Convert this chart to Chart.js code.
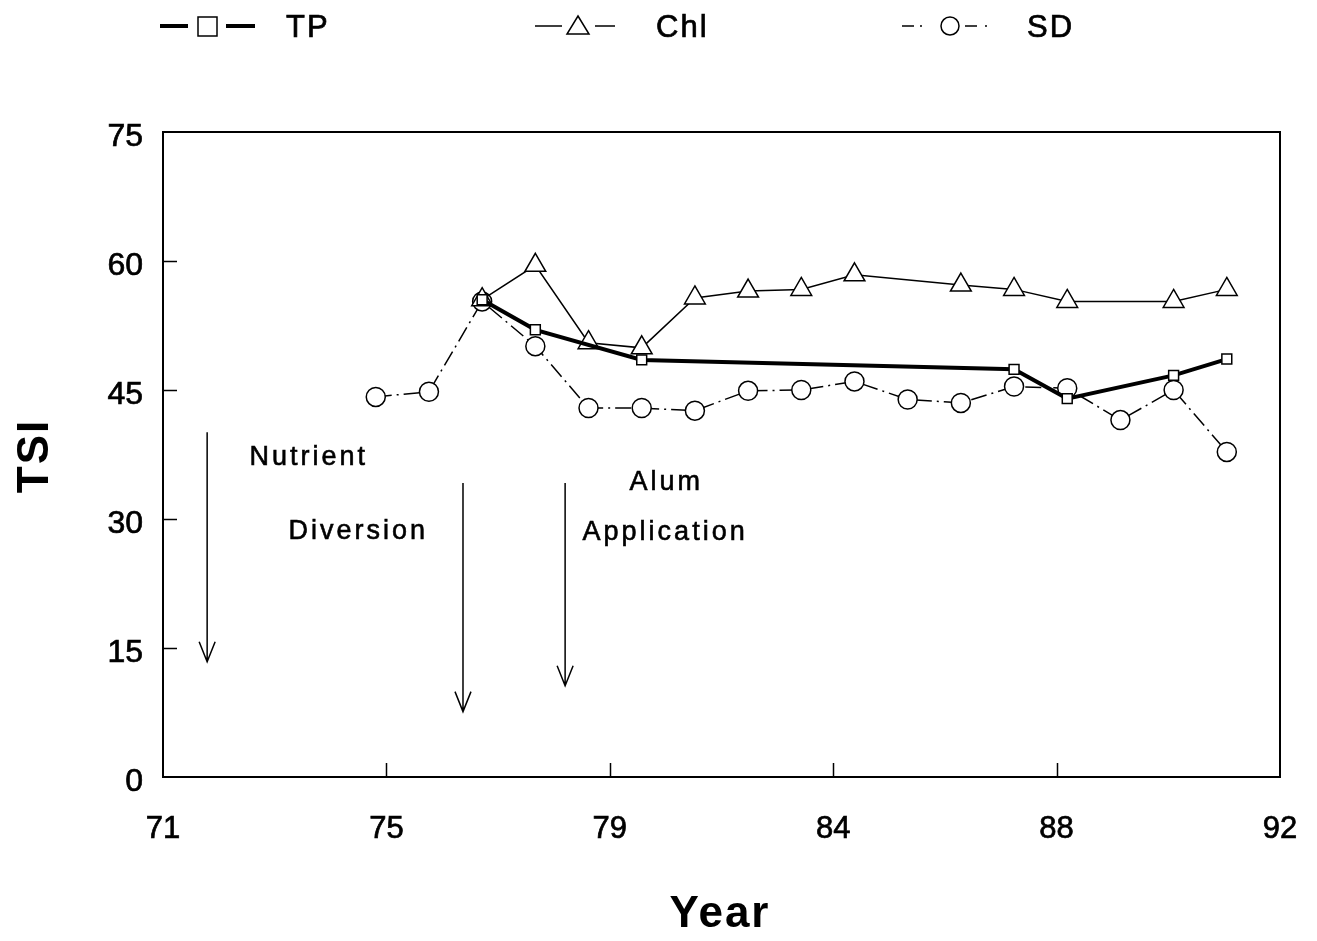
<!DOCTYPE html>
<html><head><meta charset="utf-8">
<script src="https://cdn.jsdelivr.net/npm/chart.js@4.4.1/dist/chart.umd.min.js"></script>
<style>html,body{margin:0;padding:0;background:#fff}#wrap{width:1317px;height:941px;position:relative}</style>
</head><body><div id="wrap"><canvas id="c" width="1317" height="941"></canvas></div>
<script>
const tpYears = [77, 78, 80, 87, 88, 90, 91];
const tpValues = [55.5, 52.0, 48.5, 47.4, 44.0, 46.7, 48.6];
const chlYears = [77, 78, 79, 80, 81, 82, 83, 84, 86, 87, 88, 90, 91];
const chlValues = [55.5, 59.5, 50.5, 49.9, 55.7, 56.5, 56.7, 58.4, 57.2, 56.7, 55.3, 55.3, 56.7];
const sdYears = [75, 76, 77, 78, 79, 80, 81, 82, 83, 84, 85, 86, 87, 88, 89, 90, 91];
const sdValues = [44.2, 44.8, 55.3, 50.1, 42.9, 42.9, 42.6, 44.9, 45.0, 46.0, 43.9, 43.5, 45.4, 45.2, 41.5, 45.0, 37.8];
const xTickValues = [71, 75.2, 79.4, 83.6, 87.8, 92];
const xTickLabels = ['71', '75', '79', '84', '88', '92'];
const yTickValues = [0, 15, 30, 45, 60, 75];
const arrowYears = [71.83, 76.64, 78.56];
const arrowTops = [40.1, 34.2, 34.2];
const arrowBottoms = [13.4, 7.6, 10.6];
const noteTexts = ['Nutrient', 'Diversion', 'Alum', 'Application'];
const noteYears = [73.74, 74.67, 80.46, 80.44];
const noteValues = [37.2, 28.5, 34.2, 28.4];
const seriesNames = ['TP', 'Chl', 'SD'];

const FONT = '"Liberation Sans", Arial, sans-serif';
const pts = (xs, ys) => xs.map((x, i) => ({x: x, y: ys[i]}));

function heavyText(ctx, t, x, y, w) {
  ctx.lineWidth = w;
  ctx.strokeText(t, x, y);
  ctx.fillText(t, x, y);
}

const framePlugin = {
  id: 'frame',
  afterDatasetsDraw(chart) {
    const ctx = chart.ctx, a = chart.chartArea;
    const xs = chart.scales.x, ys = chart.scales.y;
    ctx.save();
    ctx.strokeStyle = '#000';
    ctx.lineWidth = 2;
    ctx.strokeRect(a.left, a.top, a.right - a.left, a.bottom - a.top);
    ctx.lineWidth = 1.5;
    ctx.beginPath();
    xTickValues.slice(1, -1).forEach(v => {
      const px = Math.round(xs.getPixelForValue(v)) + 0.5;
      ctx.moveTo(px, a.bottom); ctx.lineTo(px, a.bottom - 14);
    });
    yTickValues.slice(1, -1).forEach(v => {
      const py = Math.round(ys.getPixelForValue(v)) + 0.5;
      ctx.moveTo(a.left, py); ctx.lineTo(a.left + 14, py);
    });
    ctx.stroke();
    // arrows
    ctx.lineWidth = 1.5;
    arrowYears.forEach((yr, i) => {
      const px = xs.getPixelForValue(yr);
      const t = ys.getPixelForValue(arrowTops[i]);
      const b = ys.getPixelForValue(arrowBottoms[i]);
      ctx.beginPath();
      ctx.moveTo(px, t); ctx.lineTo(px, b);
      ctx.moveTo(px - 8, b - 20); ctx.lineTo(px, b); ctx.lineTo(px + 8, b - 20);
      ctx.stroke();
    });
    // notes
    ctx.fillStyle = '#000';
    ctx.font = '27px ' + FONT;
    ctx.textAlign = 'center';
    ctx.textBaseline = 'middle';
    try { ctx.letterSpacing = '3px'; } catch (e) {}
    noteTexts.forEach((t, i) => {
      heavyText(ctx, t, xs.getPixelForValue(noteYears[i]), ys.getPixelForValue(noteValues[i]), 0.6);
    });
    ctx.restore();
  },
  afterDraw(chart) {
    const ctx = chart.ctx;
    ctx.save();
    ctx.fillStyle = '#000';
    ctx.strokeStyle = '#000';
    // axis titles
    ctx.textAlign = 'center';
    ctx.textBaseline = 'middle';
    ctx.font = 'bold 44px ' + FONT;
    try { ctx.letterSpacing = '2px'; } catch (e) {}
    ctx.fillText('Year', 720, 915);
    ctx.translate(36, 456);
    ctx.rotate(-Math.PI / 2);
    ctx.fillText('TSI', 0, 0);
    ctx.setTransform(1, 0, 0, 1, 0, 0);
    // legend
    const ly = 26;
    ctx.lineWidth = 4;
    ctx.beginPath(); ctx.moveTo(160, ly); ctx.lineTo(188, ly); ctx.moveTo(226, ly); ctx.lineTo(255, ly); ctx.stroke();
    ctx.lineWidth = 1.5;
    ctx.strokeRect(198, ly - 9, 19, 19);
    ctx.beginPath(); ctx.moveTo(535, ly); ctx.lineTo(562, ly); ctx.moveTo(595, ly); ctx.lineTo(615, ly); ctx.stroke();
    ctx.beginPath(); ctx.moveTo(578, ly - 10); ctx.lineTo(589, ly + 8); ctx.lineTo(567, ly + 8); ctx.closePath(); ctx.stroke();
    ctx.beginPath(); ctx.moveTo(902, ly); ctx.lineTo(914, ly); ctx.moveTo(965, ly); ctx.lineTo(977, ly); ctx.stroke();
    ctx.beginPath(); ctx.arc(921, ly, 1, 0, Math.PI * 2); ctx.arc(986, ly, 1, 0, Math.PI * 2); ctx.fill();
    ctx.beginPath(); ctx.arc(950, ly, 9, 0, Math.PI * 2); ctx.stroke();
    ctx.textAlign = 'left';
    ctx.font = '31px ' + FONT;
    try { ctx.letterSpacing = '2px'; } catch (e) {}
    heavyText(ctx, seriesNames[0], 286, ly + 2, 0.7);
    heavyText(ctx, seriesNames[1], 656, ly + 2, 0.7);
    heavyText(ctx, seriesNames[2], 1027, ly + 2, 0.7);
    ctx.restore();
  }
};

new Chart(document.getElementById('c'), {
  type: 'line',
  data: {
    datasets: [
      { label: seriesNames[0], data: pts(tpYears, tpValues), borderColor: '#000', borderWidth: 4,
        pointStyle: 'rect', pointRadius: 7, pointBorderWidth: 1.5, pointBackgroundColor: '#fff', pointBorderColor: '#000', tension: 0 },
      { label: seriesNames[1], data: pts(chlYears, chlValues), borderColor: '#000', borderWidth: 1.5,
        pointStyle: 'triangle', pointRadius: 12, pointBorderWidth: 1.5, pointBackgroundColor: '#fff', pointBorderColor: '#000', tension: 0 },
      { label: seriesNames[2], data: pts(sdYears, sdValues), borderColor: '#000', borderWidth: 1.5, borderDash: [16, 5, 2, 5],
        pointStyle: 'circle', pointRadius: 9.5, pointBorderWidth: 1.5, pointBackgroundColor: '#fff', pointBorderColor: '#000', tension: 0 }
    ]
  },
  options: {
    responsive: false,
    animation: false,
    devicePixelRatio: 1,
    layout: { padding: { left: 0, right: 37, top: 132, bottom: 0 } },
    plugins: { legend: { display: false }, tooltip: { enabled: false } },
    scales: {
      x: {
        type: 'linear', min: 71, max: 92,
        afterBuildTicks: s => { s.ticks = xTickValues.map(v => ({ value: v })); },
        afterFit: s => { s.height = 164; s.paddingLeft = 0; s.paddingRight = 0; },
        grid: { display: false, drawTicks: false },
        border: { display: false },
        ticks: { color: '#000', font: { family: FONT, size: 31 }, padding: 34, maxRotation: 0, autoSkip: false,
          textStrokeColor: '#000', textStrokeWidth: 0.7,
          callback: (v, i) => xTickLabels[i] }
      },
      y: {
        type: 'linear', min: 0, max: 75,
        afterBuildTicks: s => { s.ticks = yTickValues.map(v => ({ value: v })); },
        afterFit: s => { s.width = 163; s.paddingTop = 0; s.paddingBottom = 0; },
        grid: { display: false, drawTicks: false },
        border: { display: false },
        ticks: { color: '#000', font: { family: FONT, size: 32 }, padding: 20, labelOffset: 5, autoSkip: false,
          textStrokeColor: '#000', textStrokeWidth: 0.7,
          callback: v => String(v) }
      }
    }
  },
  plugins: [framePlugin]
});
</script></body></html>
